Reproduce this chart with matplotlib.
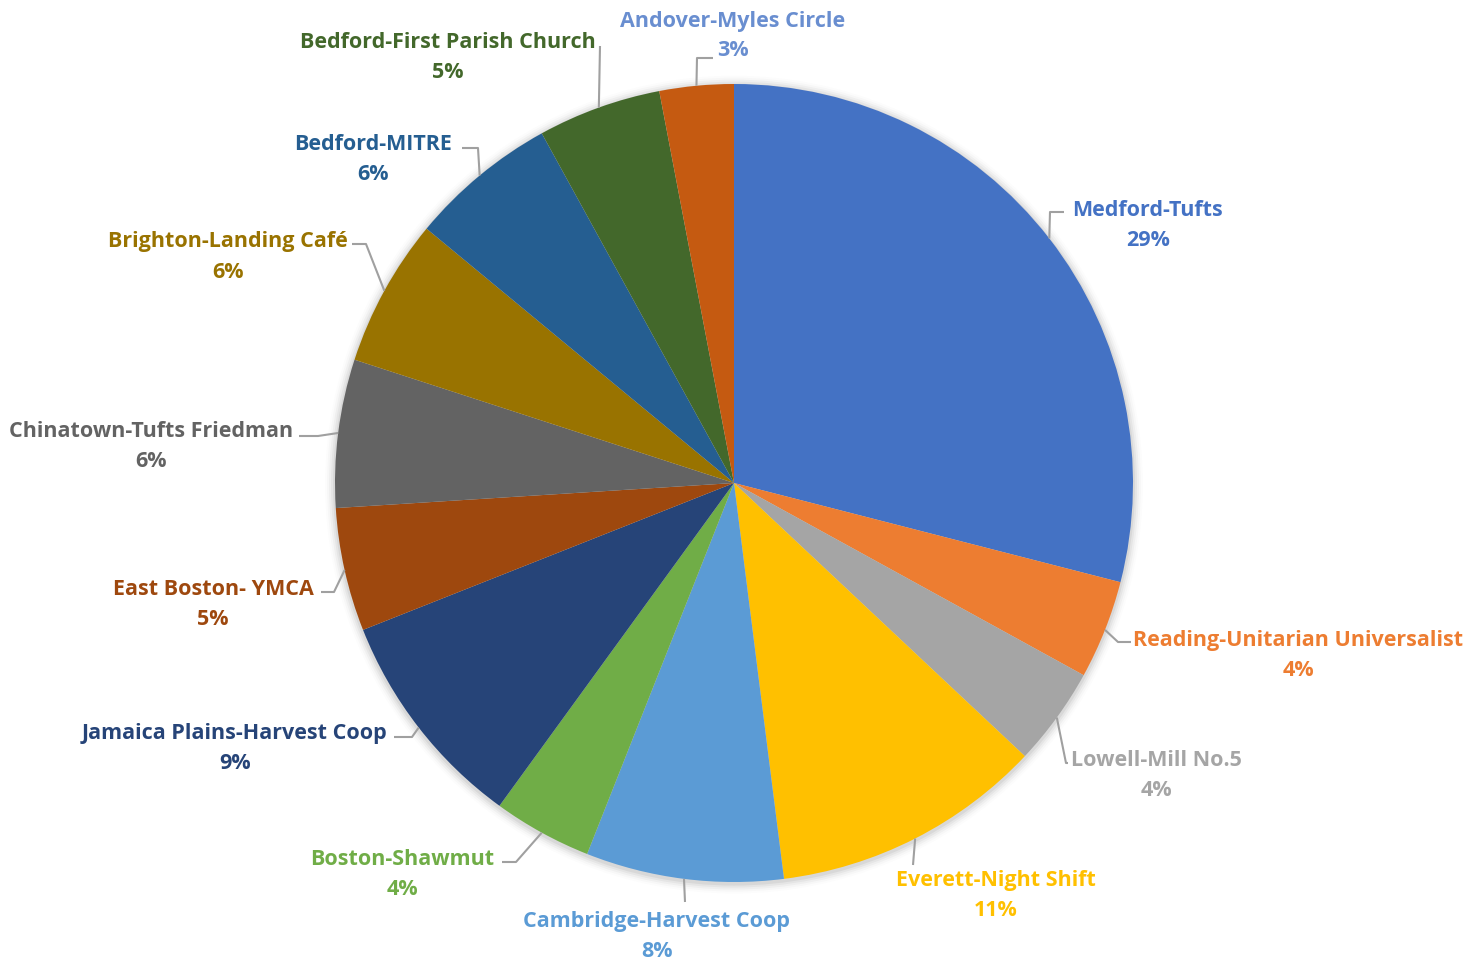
import numpy as np
import matplotlib
matplotlib.use("Agg")
import matplotlib.pyplot as plt
from matplotlib.patches import Circle

# ---------------- data ----------------
categories = [
    "Medford-Tufts", "Reading-Unitarian Universalist", "Lowell-Mill No.5",
    "Everett-Night Shift", "Cambridge-Harvest Coop", "Boston-Shawmut",
    "Jamaica Plains-Harvest Coop", "East Boston- YMCA", "Chinatown-Tufts Friedman",
    "Brighton-Landing Café", "Bedford-MITRE", "Bedford-First Parish Church",
    "Andover-Myles Circle",
]
shares = [29, 4, 4, 11, 8, 4, 9, 5, 6, 6, 6, 5, 3]

slice_colors = ["#4472C4", "#ED7D31", "#A5A5A5", "#FFC000", "#5B9BD5", "#70AD47",
                "#264478", "#9E480E", "#636363", "#997300", "#255E91", "#43682B",
                "#C55A11"]
label_colors = ["#4472C4", "#ED7D31", "#A5A5A5", "#FFC000", "#5B9BD5", "#70AD47",
                "#264478", "#9E480E", "#636363", "#997300", "#255E91", "#43682B",
                "#698ED0"]

# ---------------- layout (pixels in a 1479x962 canvas) ----------------
W, H = 1479, 962
CX, CY, R = 734, 484, 399

# label text centre (first line), leader elbow/end points
text_pos = [(1148, 210), (1298, 641), (1156, 761), (996, 881), (657, 922), (402, 860),
            (235, 734), (213, 590), (151, 432), (228, 242), (373, 145), (448, 42),
            (733, 21)]
leader_pts = [
    [(1050, 213), (1064, 213)],
    [(1118, 643), (1131, 643)],
    [(1066, 764), (1068, 764)],
    [(913, 866)],
    [(685, 903)],
    [(516, 863), (502, 863)],
    [(412, 738), (394, 738)],
    [(334, 593), (321, 593)],
    [(318, 437), (299, 437)],
    [(366, 245), (352, 245)],
    [(478, 149), (462, 149)],
    [(600, 47)],
    [(697, 59), (713, 59)],
]


def px(x, y):
    return ((x - CX) / R, (CY - y) / R)


fig = plt.figure(figsize=(W / 100, H / 100), dpi=100)
ax = fig.add_axes([0, 0, 1, 1])

# soft shadow halo
for i, a in enumerate([0.05, 0.04, 0.03, 0.02, 0.012]):
    ax.add_patch(Circle((0, -0.004), 1 + 0.005 * (i + 1), color="black", alpha=a,
                        lw=0, zorder=0))

wedges, _ = ax.pie(shares, colors=slice_colors, startangle=90, counterclock=False,
                   radius=1, center=(0, 0), frame=True,
                   wedgeprops=dict(linewidth=0))
ax.set_xlim(-CX / R, (W - CX) / R)
ax.set_ylim(-(H - CY) / R, CY / R)
ax.axis("off")

font = ["Open Sans", "DejaVu Sans"]
for w, cat, val, col, tp, lp in zip(wedges, categories, shares, label_colors,
                                    text_pos, leader_pts):
    mid = np.deg2rad((w.theta1 + w.theta2) / 2)
    start = (np.cos(mid), np.sin(mid))
    pts = [start] + [px(*p) for p in lp]
    xs, ys = zip(*pts)
    ax.plot(xs, ys, color="#A0A0A0", lw=1.5, zorder=3, solid_capstyle="butt")
    x1, y1 = px(*tp)
    ax.text(x1, y1, cat, ha="center", va="center", color=col, fontsize=15.5,
            fontweight="bold", family=font)
    x2, y2 = px(tp[0], tp[1] + 30)
    ax.text(x2, y2, f"{val}%", ha="center", va="center", color=col, fontsize=15.5,
            fontweight="bold", family=font)

fig.savefig("out.png", dpi=100, facecolor="white")
